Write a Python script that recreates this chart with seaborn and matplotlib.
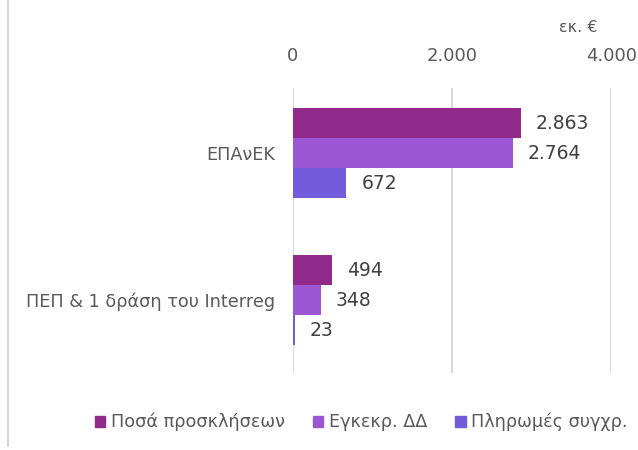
import pandas as pd
import matplotlib.pyplot as plt
import seaborn as sns
from matplotlib.lines import Line2D

# data (εκ. €)
programmes = ['ΕΠΑνΕΚ', 'ΠΕΠ & 1 δράση του Interreg']
series = ['Ποσά προσκλήσεων', 'Εγκεκρ. ΔΔ', 'Πληρωμές συγχρ.']
calls = [2863, 494]
approved = [2764, 348]
payments = [672, 23]

colors = ['#912A8B', '#9B57D3', '#735CDB']
grey_txt = '#595959'

df = pd.DataFrame({
    'programme': programmes * 3,
    'series': [s for s in series for _ in programmes],
    'value': calls + approved + payments,
})

sns.set_style('white')
plt.rcParams['font.family'] = ['DejaVu Sans']

fig = plt.figure(figsize=(6.38, 4.5), dpi=100)
ax = fig.add_axes([0.459, 0.171, 0.499, 0.633])

sns.barplot(data=df, y='programme', x='value', hue='series', orient='h',
            order=programmes, hue_order=series, palette=colors, saturation=1,
            width=0.61, ax=ax, legend=False, linewidth=0)

def fmt(v):
    return f'{int(round(v)):,}'.replace(',', '.')

for cont in ax.containers:
    ax.bar_label(cont, labels=[fmt(b.get_width()) for b in cont],
                 padding=11, fontsize=13.5, color='#404040')

ax.set_xlim(0, 4000)
ax.set_ylim(1.496, -0.442)
ax.set_xticks([0, 2000, 4000])
ax.set_xticklabels([fmt(t) for t in [0, 2000, 4000]])
ax.xaxis.tick_top()
ax.tick_params(axis='x', length=0, pad=17, labelsize=13, labelcolor=grey_txt)
ax.tick_params(axis='y', length=0, pad=13, labelsize=12.7, labelcolor=grey_txt)
ax.set_xlabel('')
ax.set_ylabel('')
ax.grid(axis='x', color='#d9d9d9', linewidth=1.5)
ax.set_axisbelow(True)
for sp in ax.spines.values():
    sp.set_visible(False)

fig.text(0.906, 0.938, 'εκ. €', ha='center', va='center', fontsize=11.5, color=grey_txt)

handles = [plt.Rectangle((0, 0), 1, 1, color=c) for c in colors]
fig.legend(handles, series, loc='center', bbox_to_anchor=(0.566, 0.062), ncol=3,
           frameon=False, fontsize=12.7, handlelength=0.6, handleheight=0.6,
           handletextpad=0.3, columnspacing=1.6, labelcolor=grey_txt)

# left frame edge of the original chart
fig.add_artist(Line2D([0.013, 0.013], [0.01, 1.0], color='#d9d9d9', linewidth=1.5,
                      transform=fig.transFigure))

fig.savefig('out.png', dpi=100)
